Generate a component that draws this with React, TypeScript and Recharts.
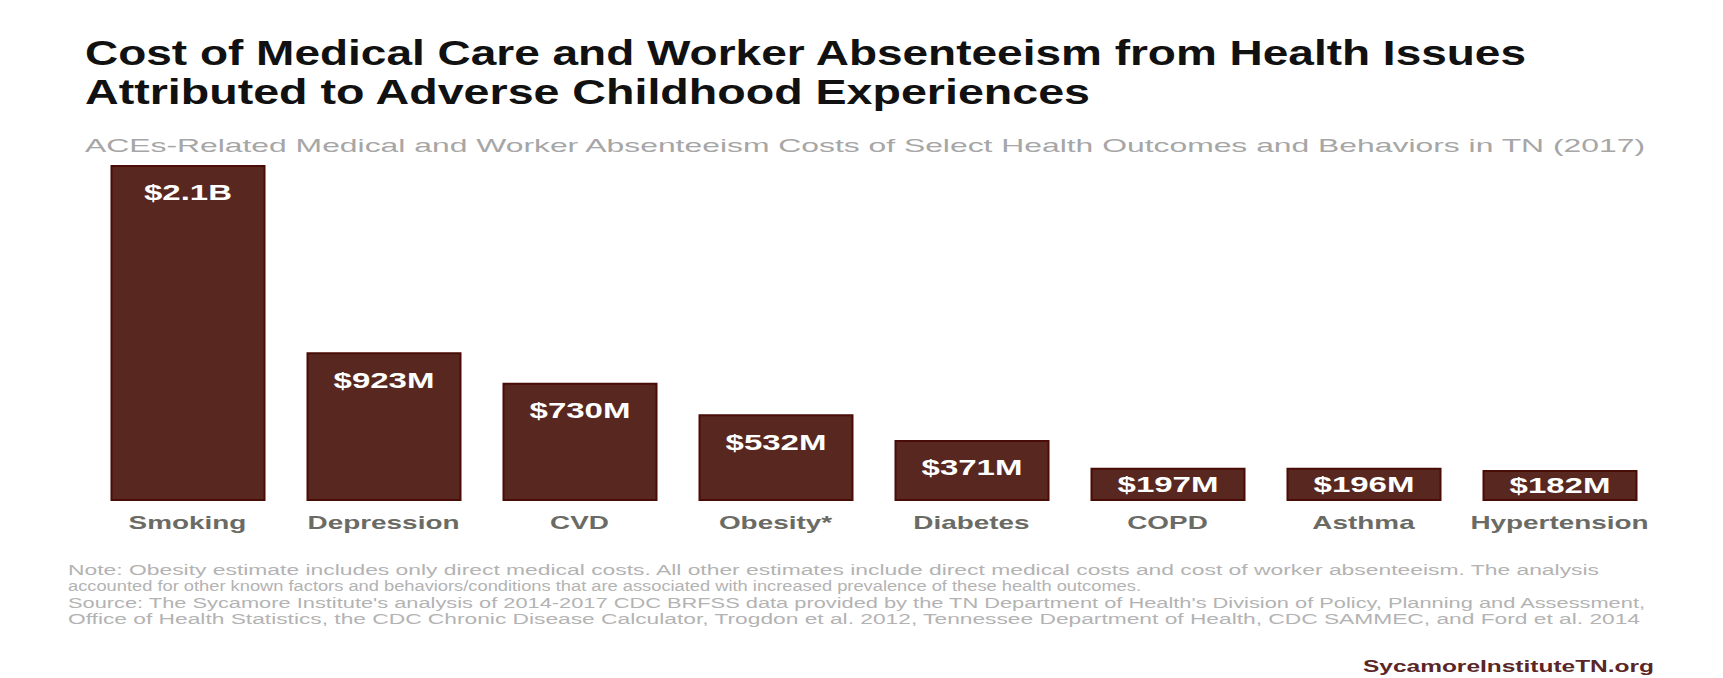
// Bar chart: ACEs-related medical + absenteeism costs in TN (2017)
import { BarChart, Bar, XAxis, YAxis, LabelList } from 'recharts';

const categories = ['Smoking', 'Depression', 'CVD', 'Obesity*', 'Diabetes', 'COPD', 'Asthma', 'Hypertension'];
// millions of dollars
const costs = [2100, 923, 730, 532, 371, 197, 196, 182];

const TITLE_LINES = [
  'Cost of Medical Care and Worker Absenteeism from Health Issues',
  'Attributed to Adverse Childhood Experiences',
];
const SUBTITLE = 'ACEs-Related Medical and Worker Absenteeism Costs of Select Health Outcomes and Behaviors in TN (2017)';
const NOTE_LINES = [
  'Note: Obesity estimate includes only direct medical costs. All other estimates include direct medical costs and cost of worker absenteeism. The analysis',
  'accounted for other known factors and behaviors/conditions that are associated with increased prevalence of these health outcomes.',
  "Source: The Sycamore Institute's analysis of 2014-2017 CDC BRFSS data provided by the TN Department of Health's Division of Policy, Planning and Assessment,",
  'Office of Health Statistics, the CDC Chronic Disease Calculator, Trogdon et al. 2012, Tennessee Department of Health, CDC SAMMEC, and Ford et al. 2014',
];
const SITE = 'SycamoreInstituteTN.org';

const BAR_FILL = '#58271f';
const BAR_EDGE = '#4a0c06';
const FONT = '"Liberation Sans", Arial, sans-serif';

const data = categories.map((name, i) => ({ name, cost: costs[i] }));

const fmt = (v: number) => (v >= 1000 ? `$${(v / 1000).toFixed(1)}B` : `$${v}M`);

function CategoryTick(props: any) {
  const { x, y, payload } = props;
  return (
    <g transform={`translate(${x},${y + 29}) scale(1.55,1)`}>
      <text textAnchor="middle" fontFamily={FONT} fontWeight="bold" fontSize={18} fill="#6b6b65">
        {payload.value}
      </text>
    </g>
  );
}

function ValueLabel(props: any) {
  const { x, y, width, height, value } = props;
  const cx = x + width / 2;
  const cy = y + Math.min(27, height / 2);
  return (
    <g transform={`translate(${cx},${cy}) scale(1.5,1)`}>
      <text textAnchor="middle" dominantBaseline="central" fontFamily={FONT} fontWeight="bold" fontSize={22} fill="#ffffff">
        {fmt(value)}
      </text>
    </g>
  );
}

export default function App() {
  return (
    <div style={{ position: 'absolute', left: 0, top: 0, width: 1723, height: 678, background: '#fff' }}>
      <svg width={1723} height={678} style={{ position: 'absolute', left: 0, top: 0 }}>
        <text x={85} y={65} fontFamily={FONT} fontWeight="bold" fontSize={35} fill="#111"
          textLength={1441} lengthAdjust="spacingAndGlyphs">{TITLE_LINES[0]}</text>
        <text x={85} y={104} fontFamily={FONT} fontWeight="bold" fontSize={35} fill="#111"
          textLength={1005} lengthAdjust="spacingAndGlyphs">{TITLE_LINES[1]}</text>
        <text x={85} y={152} fontFamily={FONT} fontSize={19} fill="#a6a6a6"
          textLength={1560} lengthAdjust="spacingAndGlyphs">{SUBTITLE}</text>
        {NOTE_LINES.map((line, i) => (
          <text key={i} x={68} y={575 + i * 16.3} fontFamily={FONT} fontSize={14} fill="#b3b3b3"
            textLength={[1531, 1073, 1577, 1572][i]} lengthAdjust="spacingAndGlyphs">{line}</text>
        ))}
        <text x={1363} y={672} fontFamily={FONT} fontWeight="bold" fontSize={16} fill="#5a2626"
          textLength={291} lengthAdjust="spacingAndGlyphs">{SITE}</text>
      </svg>
      <div style={{ position: 'absolute', left: 0, top: 0 }}>
        <BarChart width={1723} height={678} data={data}
          margin={{ top: 115, right: 65.5, bottom: 148, left: 89.5 }}>
          <XAxis dataKey="name" height={30} axisLine={false} tickLine={false} tickSize={0} tickMargin={0}
            interval={0} tick={<CategoryTick />} />
          <YAxis hide domain={[0, 2420]} />
          <Bar dataKey="cost" barSize={153} fill={BAR_FILL} stroke={BAR_EDGE} strokeWidth={2} isAnimationActive={false}>
            <LabelList dataKey="cost" content={<ValueLabel />} />
          </Bar>
        </BarChart>
      </div>
    </div>
  );
}
